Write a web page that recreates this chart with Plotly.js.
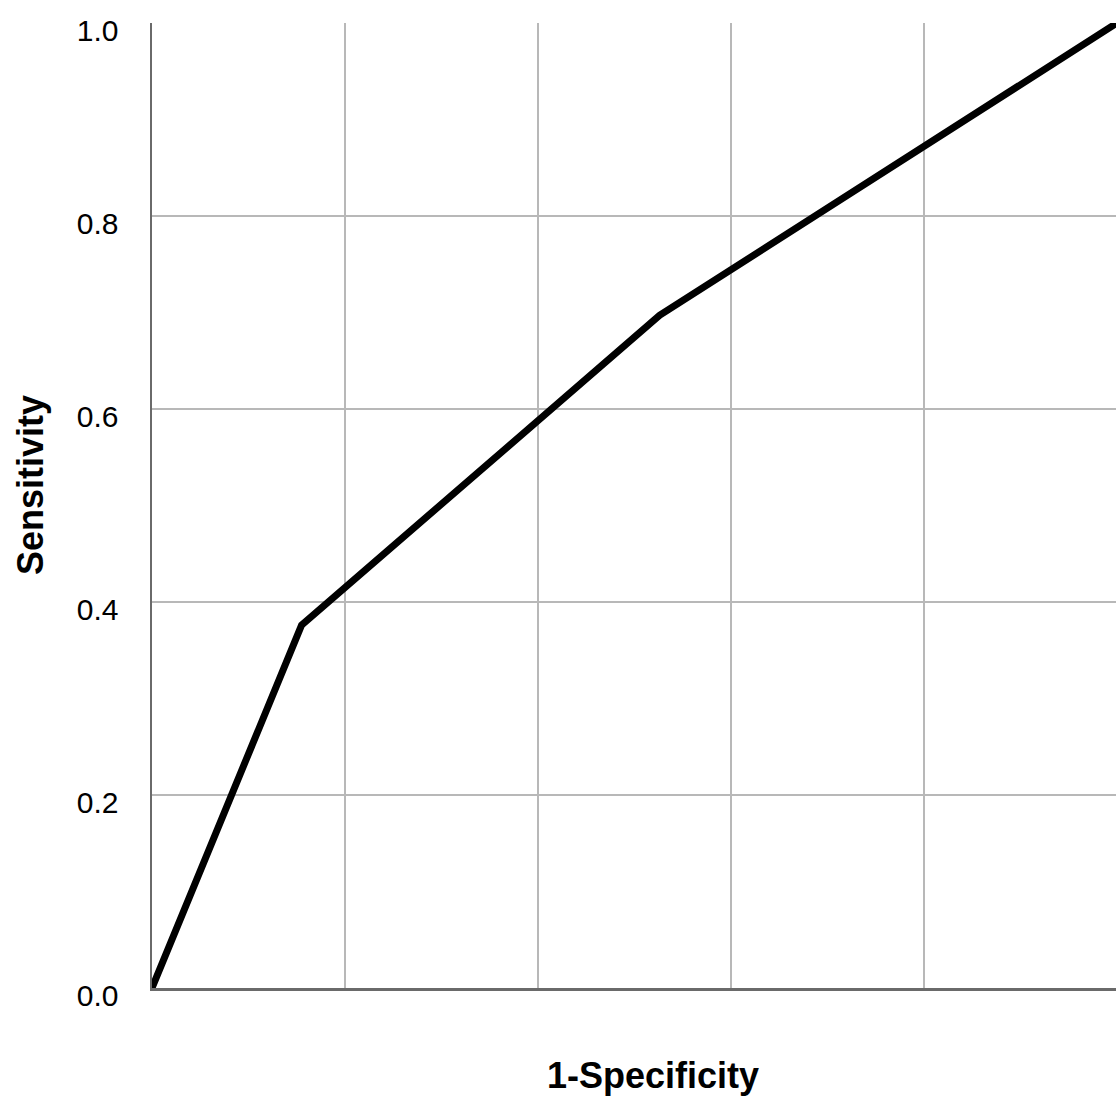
<!DOCTYPE html>
<html>
<head>
<meta charset="utf-8">
<script src="https://cdn.plot.ly/plotly-3.0.1.min.js"></script>
<style>html,body{margin:0;padding:0;background:#fff;}</style>
</head>
<body>
<div id="chart" style="width:1116px;height:1100px;"></div>
<script>
// ROC curve data
const fpr = [0, 0.155, 0.526, 1.0];          // 1-Specificity
const tpr = [0, 0.376, 0.697, 1.0];          // Sensitivity
const yTickVals = [0, 0.2, 0.4, 0.6, 0.8, 1.0];
const yTickText = ["0.0", "0.2", "0.4", "0.6", "0.8", "1.0"];
const xTitle = "1-Specificity";
const yTitle = "Sensitivity";

const trace = {
  x: fpr, y: tpr, type: 'scatter', mode: 'lines',
  line: {color: '#000000', width: 7},
  hoverinfo: 'skip'
};

const layout = {
  width: 1116, height: 1100,
  margin: {l: 152, r: 0, t: 23, b: 112},
  paper_bgcolor: '#ffffff', plot_bgcolor: '#ffffff',
  showlegend: false,
  font: {family: 'Liberation Sans, Arial, sans-serif', color: '#000'},
  xaxis: {
    range: [0, 0.999], dtick: 0.2, tick0: 0,
    showticklabels: false, ticks: '',
    showgrid: true, gridcolor: '#b8b8b8', gridwidth: 1.5,
    zeroline: false, showline: true, linecolor: '#6a6a6a', linewidth: 2.5
  },
  yaxis: {
    range: [0, 1], tickvals: yTickVals, ticktext: yTickText,
    ticks: '', ticklabelstandoff: 25, ticklabelshift: 7,
    tickfont: {size: 30, color: '#000'},
    showgrid: true, gridcolor: '#b8b8b8', gridwidth: 1.5,
    zeroline: false, showline: true, linecolor: '#6a6a6a', linewidth: 2.5
  },
  annotations: [
    {text: '<b>' + xTitle + '</b>', xref: 'paper', yref: 'paper',
     x: (653 - 152) / 964, y: -(1075 - 988) / 965, xanchor: 'center', yanchor: 'middle',
     showarrow: false, font: {size: 36, color: '#000'}},
    {text: '<b>' + yTitle + '</b>', xref: 'paper', yref: 'paper',
     x: -(152 - 30) / 964, y: (988 - 485) / 965, xanchor: 'center', yanchor: 'middle',
     textangle: -90, showarrow: false, font: {size: 36, color: '#000'}}
  ]
};

Plotly.newPlot('chart', [trace], layout, {displayModeBar: false, staticPlot: true});
</script>
</body>
</html>
